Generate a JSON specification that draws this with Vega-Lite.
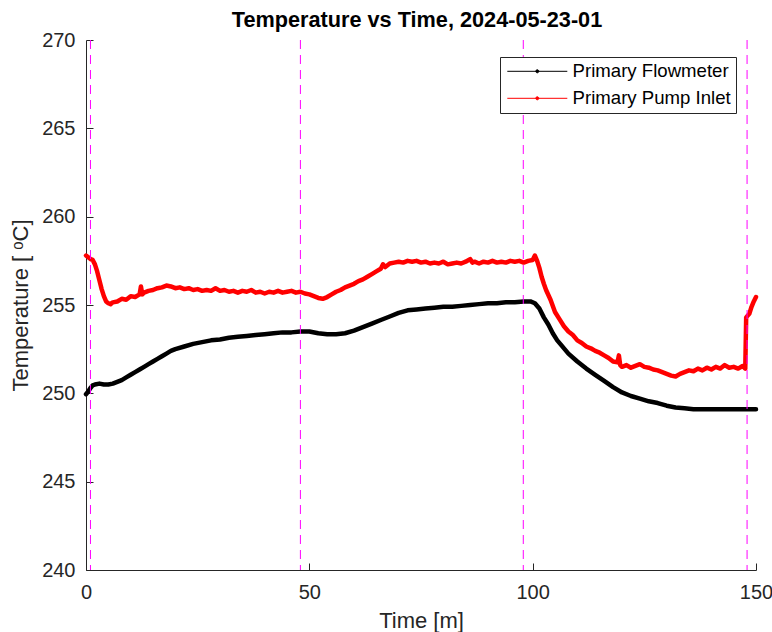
{
  "$schema": "https://vega.github.io/schema/vega-lite/v6.json",
  "width": 670,
  "height": 530,
  "autosize": {"type": "none"},
  "padding": {"left": 86, "top": 40, "right": 16, "bottom": 62},
  "background": "white",
  "title": {
    "text": "Temperature vs Time, 2024-05-23-01",
    "fontSize": 21.7,
    "fontWeight": "bold",
    "color": "#000000",
    "font": "Liberation Sans",
    "anchor": "middle",
    "frame": "group",
    "offset": 6,
    "dy": 8,
    "dx": -4
  },
  "config": {
    "view": {"stroke": null},
    "font": "Liberation Sans",
    "axis": {
      "domainColor": "#262626",
      "tickColor": "#262626",
      "labelColor": "#262626",
      "titleColor": "#262626",
      "labelFont": "Liberation Sans",
      "titleFont": "Liberation Sans",
      "labelFontSize": 20,
      "titleFontSize": 22,
      "titleFontWeight": "normal",
      "labelFlush": false,
      "grid": false,
      "domainWidth": 1,
      "tickWidth": 1
    }
  },
  "datasets": {
    "events": [{"t": 1.0}, {"t": 48.0}, {"t": 97.9}, {"t": 148.0}],
    "temps": [
      {"series": "Primary Flowmeter", "t": 0, "T": 249.95},
      {"series": "Primary Flowmeter", "t": 0.5, "T": 250.1},
      {"series": "Primary Flowmeter", "t": 1, "T": 250.3},
      {"series": "Primary Flowmeter", "t": 1.5, "T": 250.45},
      {"series": "Primary Flowmeter", "t": 2, "T": 250.5},
      {"series": "Primary Flowmeter", "t": 3, "T": 250.55},
      {"series": "Primary Flowmeter", "t": 4, "T": 250.5},
      {"series": "Primary Flowmeter", "t": 5, "T": 250.5},
      {"series": "Primary Flowmeter", "t": 6, "T": 250.55},
      {"series": "Primary Flowmeter", "t": 7, "T": 250.65},
      {"series": "Primary Flowmeter", "t": 8, "T": 250.75},
      {"series": "Primary Flowmeter", "t": 9, "T": 250.9},
      {"series": "Primary Flowmeter", "t": 10, "T": 251.05},
      {"series": "Primary Flowmeter", "t": 11, "T": 251.2},
      {"series": "Primary Flowmeter", "t": 12, "T": 251.35},
      {"series": "Primary Flowmeter", "t": 13, "T": 251.5},
      {"series": "Primary Flowmeter", "t": 14, "T": 251.65},
      {"series": "Primary Flowmeter", "t": 15, "T": 251.8},
      {"series": "Primary Flowmeter", "t": 16, "T": 251.95},
      {"series": "Primary Flowmeter", "t": 17, "T": 252.1},
      {"series": "Primary Flowmeter", "t": 18, "T": 252.25},
      {"series": "Primary Flowmeter", "t": 19, "T": 252.4},
      {"series": "Primary Flowmeter", "t": 20, "T": 252.5},
      {"series": "Primary Flowmeter", "t": 22, "T": 252.65},
      {"series": "Primary Flowmeter", "t": 24, "T": 252.8},
      {"series": "Primary Flowmeter", "t": 26, "T": 252.9},
      {"series": "Primary Flowmeter", "t": 28, "T": 253.0},
      {"series": "Primary Flowmeter", "t": 30, "T": 253.05},
      {"series": "Primary Flowmeter", "t": 32, "T": 253.15},
      {"series": "Primary Flowmeter", "t": 34, "T": 253.2},
      {"series": "Primary Flowmeter", "t": 36, "T": 253.25},
      {"series": "Primary Flowmeter", "t": 38, "T": 253.3},
      {"series": "Primary Flowmeter", "t": 40, "T": 253.35},
      {"series": "Primary Flowmeter", "t": 42, "T": 253.4},
      {"series": "Primary Flowmeter", "t": 44, "T": 253.45},
      {"series": "Primary Flowmeter", "t": 46, "T": 253.45},
      {"series": "Primary Flowmeter", "t": 48, "T": 253.5},
      {"series": "Primary Flowmeter", "t": 50, "T": 253.5},
      {"series": "Primary Flowmeter", "t": 52, "T": 253.4},
      {"series": "Primary Flowmeter", "t": 54, "T": 253.35},
      {"series": "Primary Flowmeter", "t": 56, "T": 253.35},
      {"series": "Primary Flowmeter", "t": 58, "T": 253.4},
      {"series": "Primary Flowmeter", "t": 60, "T": 253.55},
      {"series": "Primary Flowmeter", "t": 62, "T": 253.75},
      {"series": "Primary Flowmeter", "t": 64, "T": 253.95},
      {"series": "Primary Flowmeter", "t": 66, "T": 254.15},
      {"series": "Primary Flowmeter", "t": 68, "T": 254.35},
      {"series": "Primary Flowmeter", "t": 70, "T": 254.55},
      {"series": "Primary Flowmeter", "t": 72, "T": 254.7},
      {"series": "Primary Flowmeter", "t": 74, "T": 254.75},
      {"series": "Primary Flowmeter", "t": 76, "T": 254.8},
      {"series": "Primary Flowmeter", "t": 78, "T": 254.85},
      {"series": "Primary Flowmeter", "t": 80, "T": 254.9},
      {"series": "Primary Flowmeter", "t": 82, "T": 254.9},
      {"series": "Primary Flowmeter", "t": 84, "T": 254.95},
      {"series": "Primary Flowmeter", "t": 86, "T": 255.0},
      {"series": "Primary Flowmeter", "t": 88, "T": 255.05},
      {"series": "Primary Flowmeter", "t": 90, "T": 255.1},
      {"series": "Primary Flowmeter", "t": 92, "T": 255.1},
      {"series": "Primary Flowmeter", "t": 94, "T": 255.15},
      {"series": "Primary Flowmeter", "t": 96, "T": 255.15},
      {"series": "Primary Flowmeter", "t": 98, "T": 255.2},
      {"series": "Primary Flowmeter", "t": 99.5, "T": 255.2},
      {"series": "Primary Flowmeter", "t": 100.5, "T": 255.1},
      {"series": "Primary Flowmeter", "t": 101.5, "T": 254.8},
      {"series": "Primary Flowmeter", "t": 102.5, "T": 254.3},
      {"series": "Primary Flowmeter", "t": 103.5, "T": 253.9},
      {"series": "Primary Flowmeter", "t": 104.5, "T": 253.4},
      {"series": "Primary Flowmeter", "t": 105.5, "T": 253.0},
      {"series": "Primary Flowmeter", "t": 106.5, "T": 252.7},
      {"series": "Primary Flowmeter", "t": 108, "T": 252.25},
      {"series": "Primary Flowmeter", "t": 110, "T": 251.8},
      {"series": "Primary Flowmeter", "t": 112, "T": 251.4},
      {"series": "Primary Flowmeter", "t": 114, "T": 251.05},
      {"series": "Primary Flowmeter", "t": 116, "T": 250.7},
      {"series": "Primary Flowmeter", "t": 118, "T": 250.35},
      {"series": "Primary Flowmeter", "t": 120, "T": 250.05},
      {"series": "Primary Flowmeter", "t": 122, "T": 249.85},
      {"series": "Primary Flowmeter", "t": 124, "T": 249.7},
      {"series": "Primary Flowmeter", "t": 126, "T": 249.55},
      {"series": "Primary Flowmeter", "t": 128, "T": 249.45},
      {"series": "Primary Flowmeter", "t": 130, "T": 249.3},
      {"series": "Primary Flowmeter", "t": 132, "T": 249.2},
      {"series": "Primary Flowmeter", "t": 134, "T": 249.15},
      {"series": "Primary Flowmeter", "t": 136, "T": 249.1},
      {"series": "Primary Flowmeter", "t": 138, "T": 249.1},
      {"series": "Primary Flowmeter", "t": 140, "T": 249.1},
      {"series": "Primary Flowmeter", "t": 142, "T": 249.1},
      {"series": "Primary Flowmeter", "t": 144, "T": 249.1},
      {"series": "Primary Flowmeter", "t": 146, "T": 249.1},
      {"series": "Primary Flowmeter", "t": 148, "T": 249.1},
      {"series": "Primary Flowmeter", "t": 150, "T": 249.1},
      {"series": "Primary Pump Inlet", "t": 0, "T": 257.8},
      {"series": "Primary Pump Inlet", "t": 0.5, "T": 257.7},
      {"series": "Primary Pump Inlet", "t": 1, "T": 257.6},
      {"series": "Primary Pump Inlet", "t": 1.5, "T": 257.55},
      {"series": "Primary Pump Inlet", "t": 2, "T": 257.3},
      {"series": "Primary Pump Inlet", "t": 2.5, "T": 256.9},
      {"series": "Primary Pump Inlet", "t": 3, "T": 256.4},
      {"series": "Primary Pump Inlet", "t": 3.5, "T": 255.9},
      {"series": "Primary Pump Inlet", "t": 4, "T": 255.5},
      {"series": "Primary Pump Inlet", "t": 4.5, "T": 255.2},
      {"series": "Primary Pump Inlet", "t": 5, "T": 255.1},
      {"series": "Primary Pump Inlet", "t": 5.5, "T": 255.05},
      {"series": "Primary Pump Inlet", "t": 6, "T": 255.15},
      {"series": "Primary Pump Inlet", "t": 7, "T": 255.2},
      {"series": "Primary Pump Inlet", "t": 8, "T": 255.35},
      {"series": "Primary Pump Inlet", "t": 9, "T": 255.3},
      {"series": "Primary Pump Inlet", "t": 10, "T": 255.5},
      {"series": "Primary Pump Inlet", "t": 11, "T": 255.45},
      {"series": "Primary Pump Inlet", "t": 12, "T": 255.6},
      {"series": "Primary Pump Inlet", "t": 12.3, "T": 256.05},
      {"series": "Primary Pump Inlet", "t": 12.6, "T": 255.6},
      {"series": "Primary Pump Inlet", "t": 13, "T": 255.7},
      {"series": "Primary Pump Inlet", "t": 14, "T": 255.8},
      {"series": "Primary Pump Inlet", "t": 15, "T": 255.85},
      {"series": "Primary Pump Inlet", "t": 16, "T": 255.95},
      {"series": "Primary Pump Inlet", "t": 17, "T": 256.0},
      {"series": "Primary Pump Inlet", "t": 18, "T": 256.1},
      {"series": "Primary Pump Inlet", "t": 19, "T": 256.05},
      {"series": "Primary Pump Inlet", "t": 20, "T": 255.95},
      {"series": "Primary Pump Inlet", "t": 21, "T": 256.0},
      {"series": "Primary Pump Inlet", "t": 22, "T": 255.9},
      {"series": "Primary Pump Inlet", "t": 23, "T": 255.95},
      {"series": "Primary Pump Inlet", "t": 24, "T": 255.85},
      {"series": "Primary Pump Inlet", "t": 25, "T": 255.9},
      {"series": "Primary Pump Inlet", "t": 26, "T": 255.8},
      {"series": "Primary Pump Inlet", "t": 27, "T": 255.85},
      {"series": "Primary Pump Inlet", "t": 28, "T": 255.8},
      {"series": "Primary Pump Inlet", "t": 29, "T": 255.95},
      {"series": "Primary Pump Inlet", "t": 30, "T": 255.8},
      {"series": "Primary Pump Inlet", "t": 31, "T": 255.85},
      {"series": "Primary Pump Inlet", "t": 32, "T": 255.75},
      {"series": "Primary Pump Inlet", "t": 33, "T": 255.8},
      {"series": "Primary Pump Inlet", "t": 34, "T": 255.7},
      {"series": "Primary Pump Inlet", "t": 35, "T": 255.8},
      {"series": "Primary Pump Inlet", "t": 36, "T": 255.75},
      {"series": "Primary Pump Inlet", "t": 37, "T": 255.85},
      {"series": "Primary Pump Inlet", "t": 38, "T": 255.7},
      {"series": "Primary Pump Inlet", "t": 39, "T": 255.75},
      {"series": "Primary Pump Inlet", "t": 40, "T": 255.65},
      {"series": "Primary Pump Inlet", "t": 41, "T": 255.75},
      {"series": "Primary Pump Inlet", "t": 42, "T": 255.7},
      {"series": "Primary Pump Inlet", "t": 43, "T": 255.8},
      {"series": "Primary Pump Inlet", "t": 44, "T": 255.7},
      {"series": "Primary Pump Inlet", "t": 45, "T": 255.75},
      {"series": "Primary Pump Inlet", "t": 46, "T": 255.8},
      {"series": "Primary Pump Inlet", "t": 47, "T": 255.7},
      {"series": "Primary Pump Inlet", "t": 48, "T": 255.75},
      {"series": "Primary Pump Inlet", "t": 49, "T": 255.65},
      {"series": "Primary Pump Inlet", "t": 50, "T": 255.6},
      {"series": "Primary Pump Inlet", "t": 51, "T": 255.5},
      {"series": "Primary Pump Inlet", "t": 52, "T": 255.4},
      {"series": "Primary Pump Inlet", "t": 53, "T": 255.35},
      {"series": "Primary Pump Inlet", "t": 54, "T": 255.45},
      {"series": "Primary Pump Inlet", "t": 55, "T": 255.6},
      {"series": "Primary Pump Inlet", "t": 56, "T": 255.75},
      {"series": "Primary Pump Inlet", "t": 57, "T": 255.85},
      {"series": "Primary Pump Inlet", "t": 58, "T": 256.0},
      {"series": "Primary Pump Inlet", "t": 59, "T": 256.1},
      {"series": "Primary Pump Inlet", "t": 60, "T": 256.2},
      {"series": "Primary Pump Inlet", "t": 61, "T": 256.35},
      {"series": "Primary Pump Inlet", "t": 62, "T": 256.45},
      {"series": "Primary Pump Inlet", "t": 63, "T": 256.6},
      {"series": "Primary Pump Inlet", "t": 64, "T": 256.75},
      {"series": "Primary Pump Inlet", "t": 65, "T": 256.9},
      {"series": "Primary Pump Inlet", "t": 66, "T": 257.05},
      {"series": "Primary Pump Inlet", "t": 66.5, "T": 257.3},
      {"series": "Primary Pump Inlet", "t": 67, "T": 257.15},
      {"series": "Primary Pump Inlet", "t": 68, "T": 257.35},
      {"series": "Primary Pump Inlet", "t": 69, "T": 257.4},
      {"series": "Primary Pump Inlet", "t": 70, "T": 257.45},
      {"series": "Primary Pump Inlet", "t": 71, "T": 257.4},
      {"series": "Primary Pump Inlet", "t": 72, "T": 257.5},
      {"series": "Primary Pump Inlet", "t": 73, "T": 257.45},
      {"series": "Primary Pump Inlet", "t": 74, "T": 257.5},
      {"series": "Primary Pump Inlet", "t": 75, "T": 257.4},
      {"series": "Primary Pump Inlet", "t": 76, "T": 257.45},
      {"series": "Primary Pump Inlet", "t": 77, "T": 257.35},
      {"series": "Primary Pump Inlet", "t": 78, "T": 257.4},
      {"series": "Primary Pump Inlet", "t": 79, "T": 257.35},
      {"series": "Primary Pump Inlet", "t": 80, "T": 257.45},
      {"series": "Primary Pump Inlet", "t": 81, "T": 257.3},
      {"series": "Primary Pump Inlet", "t": 82, "T": 257.35},
      {"series": "Primary Pump Inlet", "t": 83, "T": 257.4},
      {"series": "Primary Pump Inlet", "t": 84, "T": 257.35},
      {"series": "Primary Pump Inlet", "t": 85, "T": 257.45},
      {"series": "Primary Pump Inlet", "t": 86, "T": 257.6},
      {"series": "Primary Pump Inlet", "t": 86.5, "T": 257.4},
      {"series": "Primary Pump Inlet", "t": 87, "T": 257.45},
      {"series": "Primary Pump Inlet", "t": 88, "T": 257.35},
      {"series": "Primary Pump Inlet", "t": 89, "T": 257.45},
      {"series": "Primary Pump Inlet", "t": 90, "T": 257.4},
      {"series": "Primary Pump Inlet", "t": 91, "T": 257.5},
      {"series": "Primary Pump Inlet", "t": 92, "T": 257.4},
      {"series": "Primary Pump Inlet", "t": 93, "T": 257.45},
      {"series": "Primary Pump Inlet", "t": 94, "T": 257.4},
      {"series": "Primary Pump Inlet", "t": 95, "T": 257.5},
      {"series": "Primary Pump Inlet", "t": 96, "T": 257.45},
      {"series": "Primary Pump Inlet", "t": 97, "T": 257.5},
      {"series": "Primary Pump Inlet", "t": 98, "T": 257.4},
      {"series": "Primary Pump Inlet", "t": 99, "T": 257.5},
      {"series": "Primary Pump Inlet", "t": 100, "T": 257.55},
      {"series": "Primary Pump Inlet", "t": 100.5, "T": 257.8},
      {"series": "Primary Pump Inlet", "t": 101, "T": 257.5},
      {"series": "Primary Pump Inlet", "t": 101.5, "T": 257.1},
      {"series": "Primary Pump Inlet", "t": 102, "T": 256.6},
      {"series": "Primary Pump Inlet", "t": 102.5, "T": 256.2},
      {"series": "Primary Pump Inlet", "t": 103, "T": 255.85},
      {"series": "Primary Pump Inlet", "t": 104, "T": 255.3},
      {"series": "Primary Pump Inlet", "t": 105, "T": 254.6},
      {"series": "Primary Pump Inlet", "t": 106, "T": 254.2},
      {"series": "Primary Pump Inlet", "t": 107, "T": 253.8},
      {"series": "Primary Pump Inlet", "t": 108, "T": 253.5},
      {"series": "Primary Pump Inlet", "t": 109, "T": 253.3},
      {"series": "Primary Pump Inlet", "t": 110, "T": 253.0},
      {"series": "Primary Pump Inlet", "t": 111, "T": 252.85},
      {"series": "Primary Pump Inlet", "t": 112, "T": 252.65},
      {"series": "Primary Pump Inlet", "t": 113, "T": 252.55},
      {"series": "Primary Pump Inlet", "t": 114, "T": 252.4},
      {"series": "Primary Pump Inlet", "t": 115, "T": 252.3},
      {"series": "Primary Pump Inlet", "t": 116, "T": 252.15},
      {"series": "Primary Pump Inlet", "t": 117, "T": 252.0},
      {"series": "Primary Pump Inlet", "t": 118, "T": 251.8},
      {"series": "Primary Pump Inlet", "t": 119, "T": 251.75},
      {"series": "Primary Pump Inlet", "t": 119.3, "T": 252.15},
      {"series": "Primary Pump Inlet", "t": 119.6, "T": 251.6},
      {"series": "Primary Pump Inlet", "t": 120, "T": 251.5},
      {"series": "Primary Pump Inlet", "t": 121, "T": 251.6},
      {"series": "Primary Pump Inlet", "t": 122, "T": 251.45},
      {"series": "Primary Pump Inlet", "t": 123, "T": 251.55},
      {"series": "Primary Pump Inlet", "t": 124, "T": 251.65},
      {"series": "Primary Pump Inlet", "t": 125, "T": 251.5},
      {"series": "Primary Pump Inlet", "t": 126, "T": 251.45},
      {"series": "Primary Pump Inlet", "t": 127, "T": 251.35},
      {"series": "Primary Pump Inlet", "t": 128, "T": 251.3},
      {"series": "Primary Pump Inlet", "t": 129, "T": 251.2},
      {"series": "Primary Pump Inlet", "t": 130, "T": 251.1},
      {"series": "Primary Pump Inlet", "t": 131, "T": 251.0},
      {"series": "Primary Pump Inlet", "t": 132, "T": 250.95},
      {"series": "Primary Pump Inlet", "t": 133, "T": 251.1},
      {"series": "Primary Pump Inlet", "t": 134, "T": 251.2},
      {"series": "Primary Pump Inlet", "t": 135, "T": 251.3},
      {"series": "Primary Pump Inlet", "t": 136, "T": 251.25},
      {"series": "Primary Pump Inlet", "t": 137, "T": 251.4},
      {"series": "Primary Pump Inlet", "t": 138, "T": 251.3},
      {"series": "Primary Pump Inlet", "t": 139, "T": 251.45},
      {"series": "Primary Pump Inlet", "t": 140, "T": 251.35},
      {"series": "Primary Pump Inlet", "t": 141, "T": 251.5},
      {"series": "Primary Pump Inlet", "t": 142, "T": 251.4},
      {"series": "Primary Pump Inlet", "t": 143, "T": 251.6},
      {"series": "Primary Pump Inlet", "t": 144, "T": 251.45},
      {"series": "Primary Pump Inlet", "t": 145, "T": 251.5},
      {"series": "Primary Pump Inlet", "t": 146, "T": 251.4},
      {"series": "Primary Pump Inlet", "t": 147, "T": 251.55},
      {"series": "Primary Pump Inlet", "t": 147.6, "T": 251.4},
      {"series": "Primary Pump Inlet", "t": 147.8, "T": 254.3},
      {"series": "Primary Pump Inlet", "t": 148.5, "T": 254.5},
      {"series": "Primary Pump Inlet", "t": 149, "T": 254.9},
      {"series": "Primary Pump Inlet", "t": 149.5, "T": 255.2},
      {"series": "Primary Pump Inlet", "t": 150, "T": 255.45}
    ]
  },
  "layer": [
    {
      "data": {"name": "temps"},
      "mark": {"type": "line", "strokeWidth": 4.5, "strokeJoin": "round", "strokeCap": "round"},
      "encoding": {
        "x": {
          "field": "t",
          "type": "quantitative",
          "scale": {"domain": [0, 150], "nice": false, "zero": false},
          "axis": {
            "title": "Time [m]",
            "values": [0, 50, 100, 150],
            "tickSize": -7,
            "labelPadding": 19,
            "titlePadding": 8
          }
        },
        "y": {
          "field": "T",
          "type": "quantitative",
          "scale": {"domain": [240, 270], "nice": false, "zero": false},
          "axis": {
            "title": "Temperature [ ᵒC]",
            "values": [240, 245, 250, 255, 260, 265, 270],
            "tickSize": -7,
            "labelPadding": 18,
            "titlePadding": 9
          }
        },
        "color": {
          "field": "series",
          "type": "nominal",
          "scale": {
            "domain": ["Primary Flowmeter", "Primary Pump Inlet"],
            "range": ["#000000", "#ff0000"]
          },
          "legend": {
            "title": null,
            "orient": "none",
            "legendX": 414,
            "legendY": 17,
            "padding": 5,
            "rowPadding": 8,
            "fillColor": "#ffffff",
            "strokeColor": "#262626",
            "cornerRadius": 0,
            "labelFont": "Liberation Sans",
            "labelFontSize": 18.6,
            "labelColor": "#000000",
            "labelOffset": 26,
            "symbolType": "M-6,0H6M0.3,0A0.3,0.3,0,1,1,-0.3,0A0.3,0.3,0,1,1,0.3,0Z",
            "symbolSize": 100,
            "symbolStrokeWidth": 1,
            "symbolOffset": 23,
            "encode": {
              "symbols": {"update": {"fill": {"scale": "color", "field": "value"}}}
            }
          }
        },
        "detail": {"field": "series"}
      }
    },
    {
      "data": {"name": "events"},
      "mark": {"type": "rule", "color": "#ff00ff", "strokeWidth": 1, "strokeDash": [9, 6]},
      "encoding": {
        "x": {"field": "t", "type": "quantitative"}
      }
    }
  ]
}
